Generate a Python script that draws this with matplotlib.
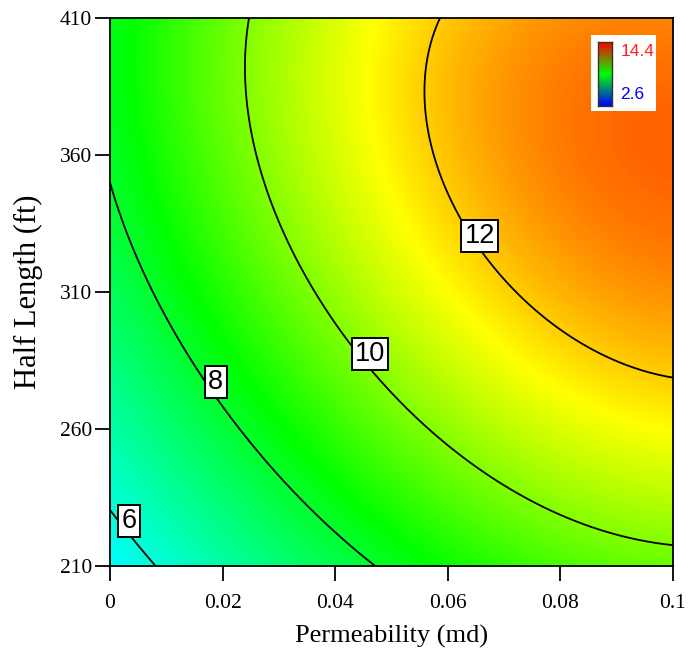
import numpy as np
import matplotlib.pyplot as plt
from matplotlib.colors import LinearSegmentedColormap

# response at the tick grid
permeability = [0, 0.02, 0.04, 0.06, 0.08, 0.1]
half_length = [210, 260, 310, 360, 410]
response = [
    [5.62, 6.60, 7.64, 8.60, 9.34, 9.71],     # 210 ft
    [6.57, 7.81, 9.06, 10.17, 11.02, 11.46],  # 260 ft
    [7.47, 8.87, 10.24, 11.43, 12.30, 12.71], # 310 ft
    [8.09, 9.57, 10.96, 12.13, 12.93, 13.23], # 360 ft
    [8.21, 9.67, 11.00, 12.06, 12.71, 12.81], # 410 ft
]
levels = [6, 8, 10, 12]
label_pos = [(0.0034, 226.5), (0.0188, 277.2), (0.0462, 287.4), (0.0657, 330.4)]
legend_hi = 14.4
legend_lo = 2.6

x_ticks = [0, 0.02, 0.04, 0.06, 0.08, 0.1]
x_ticklabels = ["0", "0.02", "0.04", "0.06", "0.08", "0.1"]
y_ticks = [210, 260, 310, 360, 410]


def terms(x, y):
    u = x / 0.05 - 1
    v = (y - 310) / 100
    one = np.ones_like(u)
    return np.stack([one, u, v, u * u, v * v, u * v, u**3, v**3, u * u * v, u * v * v], axis=-1)


# smooth cubic response surface through the grid values
PX, PY = np.meshgrid(permeability, half_length)
coef, *_ = np.linalg.lstsq(terms(PX.ravel(), PY.ravel()), np.array(response).ravel(), rcond=None)

gx = np.linspace(0, 0.1, 400)
gy = np.linspace(210, 410, 400)
GX, GY = np.meshgrid(gx, gy)
Z = terms(GX, GY) @ coef

cmap = LinearSegmentedColormap.from_list("de", ["#0000ff", "#00ffff", "#00ff00", "#ffff00", "#ff0000"])

fig = plt.figure(figsize=(6.88, 6.53), dpi=100)
ax = fig.add_axes([110 / 688, 87 / 653, 563 / 688, 548 / 653])
ax.imshow(Z, origin="lower", extent=[0, 0.1, 210, 410], aspect="auto",
          cmap=cmap, vmin=legend_lo, vmax=legend_hi, interpolation="bilinear")
ax.contour(GX, GY, Z, levels=levels, colors="black", linewidths=1.3)

for lv, (px, py) in zip(levels, label_pos):
    ax.text(px, py, str(lv), ha="center", va="center", fontsize=19.5,
            family="Liberation Sans", zorder=5,
            bbox=dict(boxstyle="square,pad=0.12", fc="white", ec="black", lw=1.4))

ax.set_xlim(0, 0.1)
ax.set_ylim(210, 410)
ax.set_xticks(x_ticks)
ax.set_xticklabels(x_ticklabels)
ax.set_yticks(y_ticks)
ax.tick_params(direction="out", length=11, width=1.3, labelsize=15.5)
ax.tick_params(axis="x", pad=9)
ax.tick_params(axis="y", pad=2)
for lab in ax.get_xticklabels() + ax.get_yticklabels():
    lab.set_family("Liberation Serif")
for sp in ax.spines.values():
    sp.set_linewidth(1.3)
ax.set_xlabel("Permeability (md)", family="Liberation Serif", fontsize=19, labelpad=9)
ax.set_ylabel("Half Length (ft)", family="Liberation Serif", fontsize=22, labelpad=12)

# little colour key in the corner
key = fig.add_axes([591 / 688, (653 - 111) / 653, 65 / 688, 76 / 653])
key.set_facecolor("white")
key.set_xticks([])
key.set_yticks([])
for sp in key.spines.values():
    sp.set_visible(False)
bar = fig.add_axes([598 / 688, (653 - 106) / 653, 14 / 688, 64 / 653])
bar_cmap = LinearSegmentedColormap.from_list("key", ["#0000ff", "#00ff00", "#ff0000"])
bar.imshow(np.linspace(0, 1, 100)[:, None], origin="lower", aspect="auto", cmap=bar_cmap)
bar.set_xticks([])
bar.set_yticks([])
for sp in bar.spines.values():
    sp.set_color("#333333")
    sp.set_linewidth(1.0)
key.text(0.45, 0.78, f"{legend_hi}", color="#ff2020", fontsize=12.5,
         family="Liberation Sans", transform=key.transAxes, va="center")
key.text(0.45, 0.22, f"{legend_lo}", color="#0000ff", fontsize=12.5,
         family="Liberation Sans", transform=key.transAxes, va="center")

fig.savefig("out.png", dpi=100)
